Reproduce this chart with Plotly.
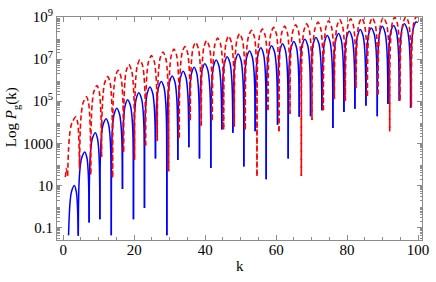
import plotly.graph_objects as go

# ---- values (k, log10 P) ----
# Blue solid curve: troughs (cusps) and arch tops
blue_trough_k = [1.5, 4.25, 7.3, 10.33, 13.55, 16.7, 19.8, 22.9, 26.0, 29.2, 32.3, 35.4, 38.4, 41.6, 44.7,
                 47.8, 50.9, 54.1, 57.2, 60.4, 63.4, 66.5, 69.7, 72.9, 76.0, 79.1, 82.2, 85.3, 88.5, 91.5,
                 94.7, 97.9, 99.9]
blue_trough_log = [-1.38, -1.4, -0.77, -0.61, -1.38, 0.83, -0.61, -0.08, 2.28, -1.38, 2.2, 2.81, 2.28, 1.82, 3.65,
                   3.5, 1.9, 3.57, 1.29, 3.88, 2.28, 4.26, 4.29, 4.57, 3.73, 4.49, 4.64, 4.79, 4.29, 4.87,
                   5.02, 4.69, 8.74]
blue_peak_k = [3.15, 6.1, 9.05, 12.1, 15.1, 18.15, 21.3, 24.45, 27.65, 30.7, 33.8, 36.9, 39.9, 43.1, 46.2,
               49.3, 52.5, 55.7, 58.7, 61.8, 65.0, 68.1, 71.2, 74.4, 77.6, 80.6, 83.7, 86.8, 89.9, 93.1,
               96.1, 99.4]
blue_peak_log = [0.99, 2.59, 3.5, 4.17, 4.67, 5.07, 5.4, 5.68, 5.94, 6.2, 6.43, 6.62, 6.78, 6.96, 7.11,
                 7.25, 7.39, 7.54, 7.64, 7.73, 7.84, 7.95, 8.03, 8.12, 8.22, 8.33, 8.41, 8.48, 8.56, 8.6,
                 8.68, 8.77]

# Red dashed curve
red_trough_k = [0.55, 1.25, 4.6, 7.75, 10.8, 13.9, 17.0, 20.1, 23.2, 26.5, 29.7, 32.7, 35.8, 38.9, 42.0,
                45.2, 48.2, 51.3, 54.6, 57.7, 60.8, 63.9, 67.1, 70.1, 73.3, 76.4, 79.5, 82.5, 85.7, 88.7,
                92.0, 94.9, 98.1, 99.95]
red_trough_log = [1.4, 1.45, 1.8, 1.52, 2.36, 1.37, 2.59, 2.2, 2.89, 3.12, 1.67, 3.27, 4.1, 3.85, 4.1,
                  3.65, 3.8, 3.65, 1.44, 4.57, 3.57, 4.4, 1.44, 4.11, 4.57, 5.1, 5.02, 5.63, 5.25, 5.33,
                  3.57, 5.02, 4.72, 9.0]
red_peak_k = [0.85, 3.6, 6.55, 9.5, 12.55, 15.5, 18.5, 21.6, 24.85, 28.1, 31.2, 34.3, 37.3, 40.4, 43.5,
              46.6, 49.7, 53.1, 56.1, 59.3, 62.4, 65.5, 68.6, 71.8, 74.8, 77.9, 81.0, 84.1, 87.1, 90.2,
              93.4, 96.6, 99.5]
red_peak_log = [1.8, 4.26, 5.21, 5.75, 6.17, 6.47, 6.74, 6.97, 7.17, 7.34, 7.48, 7.6, 7.8, 7.88, 8.0,
                8.1, 8.21, 8.37, 8.43, 8.51, 8.57, 8.63, 8.68, 8.76, 8.83, 8.88, 8.92, 8.95, 8.97, 8.98,
                9.0, 9.02, 9.03]

# Arch outline: fraction of the way from top to cusp, and drop (decades) below the top
arch_frac = [0.5, 0.75, 0.9, 0.97]
arch_drop = [0.3, 0.83, 1.6, 2.65]

# Axis ticks
x_ticks = [0, 20, 40, 60, 80, 100]
y_ticks = [0.1, 10, 1000, 1e5, 1e7, 1e9]
y_tick_text = ["0.1", "10", "1000", "10<sup>5</sup>", "10<sup>7</sup>", "10<sup>9</sup>"]


def arches(tk, tl, pk, pl):
    xs, ys = [], []
    for i in range(len(pk)):
        seg = [(tk[i], tl[i])]
        h = pl[i] - tl[i]
        for f, d in reversed(list(zip(arch_frac, arch_drop))):
            if d < 0.85 * h:
                seg.append((pk[i] + (tk[i] - pk[i]) * f, pl[i] - d))
        seg.append((pk[i], pl[i]))
        h = pl[i] - tl[i + 1]
        for f, d in zip(arch_frac, arch_drop):
            if d < 0.85 * h:
                seg.append((pk[i] + (tk[i + 1] - pk[i]) * f, pl[i] - d))
        seg.append((tk[i + 1], tl[i + 1]))
        xs += [p[0] for p in seg] + [None]
        ys += [10 ** p[1] for p in seg] + [None]
    return xs, ys


bx, by = arches(blue_trough_k, blue_trough_log, blue_peak_k, blue_peak_log)
rx, ry = arches(red_trough_k, red_trough_log, red_peak_k, red_peak_log)

fig = go.Figure()
fig.add_trace(go.Scatter(x=bx, y=by, mode="lines", connectgaps=False,
                         line=dict(color="#0000ff", width=1.5, shape="spline", smoothing=0.8),
                         hoverinfo="skip", showlegend=False))
fig.add_trace(go.Scatter(x=rx, y=ry, mode="lines", connectgaps=False,
                         line=dict(color="#ff0000", width=1.6, dash="5px,3px", shape="spline", smoothing=0.8),
                         hoverinfo="skip", showlegend=False))

minor_y = []
for n in range(-2, 10):
    for m in range(1, 10):
        v = m * 10.0 ** n
        if m == 1 and n % 2 == 1 and n != -1:
            minor_y.append(v)
        elif m > 1:
            minor_y.append(v)
minor_y = [v for v in minor_y if v not in y_ticks]

font_serif = "Liberation Serif, Times New Roman, serif"
axis_col = "#8c8c8c"
fs = 15

fig.update_layout(
    width=436, height=282,
    margin=dict(l=57, r=7, t=8, b=42),
    paper_bgcolor="white", plot_bgcolor="white",
    font=dict(family=font_serif, size=fs, color="black"),
    xaxis=dict(range=[-1.75, 101.1], tickvals=x_ticks, ticks="inside", ticklen=5, tickwidth=1,
               tickcolor=axis_col, showline=True, linecolor=axis_col, linewidth=1, mirror="allticks",
               showgrid=False, zeroline=False, ticklabeloverflow="allow", ticklabelstandoff=-4,
               minor=dict(dtick=5, tick0=0, ticks="inside", ticklen=3, tickcolor=axis_col),
               tickfont=dict(family=font_serif, size=fs)),
    yaxis=dict(type="log", range=[-1.6, 9.005], tickvals=y_ticks, ticktext=y_tick_text,
               ticks="inside", ticklen=5, tickwidth=1, tickcolor=axis_col, showline=True,
               linecolor=axis_col, linewidth=1, mirror="allticks", showgrid=False, zeroline=False,
               ticklabeloverflow="allow",
               minor=dict(tickvals=minor_y, ticks="inside", ticklen=2.5, tickcolor=axis_col),
               tickfont=dict(family=font_serif, size=fs)),
    annotations=[
        dict(text="k", xref="paper", yref="paper", x=0.5, y=-0.115, xanchor="center", yanchor="middle",
             showarrow=False, font=dict(family=font_serif, size=fs)),
        dict(text="Log <i>P</i><sub>g</sub>(k)", xref="paper", yref="paper", x=-0.121, y=0.55,
             xanchor="center", yanchor="middle", textangle=-90, showarrow=False,
             font=dict(family=font_serif, size=fs)),
    ],
)

fig.write_html("out.html", config={"displayModeBar": False},
               post_script="document.body.style.margin='0px';")
